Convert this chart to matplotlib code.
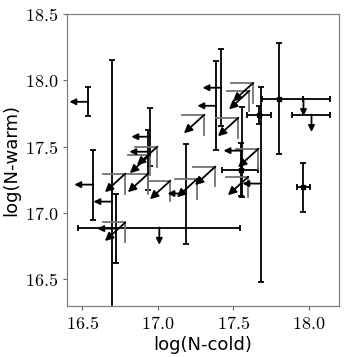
import numpy as np
import matplotlib.pyplot as plt
from matplotlib.ticker import FuncFormatter

plt.rcParams['mathtext.fontset'] = 'cm'

# detections: x, y, x- err, x+ err, y- err, y+ err
det_x = [17.805, 17.672, 17.964, 17.553]
det_y = [17.861, 17.741, 17.199, 17.327]
det_xlo = [0.113, 0.08, 0.04, 0.125]
det_xhi = [0.337, 0.08, 0.04, 0.113]
det_ylo = [0.414, 0.068, 0.19, 0.20]
det_yhi = [0.421, 0.068, 0.18, 0.20]

# upper limits in N-cold (arrow to the left), with errors in N-warm
lx_x = [16.540, 16.573, 16.699, 16.725, 16.950, 16.937, 17.189, 17.421, 17.387, 17.685, 17.560]
lx_y = [17.838, 17.214, 17.086, 16.883, 17.575, 17.462, 17.147, 17.944, 17.808, 17.222, 17.470]
lx_ylo = [0.11, 0.27, 1.0, 0.26, 0.22, 0.29, 0.38, 0.29, 0.33, 0.74, 0.35]
lx_yhi = [0.11, 0.26, 1.07, 0.26, 0.22, 0.16, 0.37, 0.29, 0.34, 0.73, 0.33]

# upper limits in N-warm (arrow down), with errors in N-cold
ly_x = [17.010, 18.017, 17.964]
ly_y = [16.891, 17.741, 17.861]
ly_xlo = [0.536, 0.126, 0.0]
ly_xhi = [0.536, 0.125, 0.0]

# upper limits in both
lb_x = [17.308, 17.632, 17.606, 17.533, 17.666, 17.599, 17.381, 17.262,
        17.083, 16.997, 16.950, 16.937, 16.785, 16.785]
lb_y = [17.741, 17.981, 17.921, 17.718, 17.485, 17.274, 17.350, 17.259,
        17.244, 17.500, 17.440, 17.297, 17.297, 16.929]

fig = plt.figure(figsize=(3.57, 3.57), dpi=100)
ax = fig.add_axes([0.188, 0.143, 0.762, 0.818])

ebkw = dict(fmt='none', ecolor='k', elinewidth=1.3, capsize=2.5, capthick=1.3)
arkw = dict(arrowstyle='-|>', color='k', lw=1.3, mutation_scale=9, shrinkA=0, shrinkB=0)
arkw2 = dict(arrowstyle='-|>', color='k', lw=1.3, mutation_scale=12, shrinkA=0, shrinkB=0)

ax.errorbar(det_x, det_y, xerr=[det_xlo, det_xhi], yerr=[det_ylo, det_yhi], **ebkw)
ax.plot(det_x, det_y, 's', color='k', ms=3)

ax.errorbar(lx_x, lx_y, yerr=[lx_ylo, lx_yhi], **ebkw)
for x, y in zip(lx_x, lx_y):
    ax.annotate('', xy=(x - 0.125, y), xytext=(x, y), arrowprops=arkw)

ax.errorbar(ly_x, ly_y, xerr=[ly_xlo, ly_xhi], **ebkw)
for x, y in zip(ly_x, ly_y):
    ax.annotate('', xy=(x, y - 0.13), xytext=(x, y), arrowprops=arkw)

for x, y in zip(lb_x, lb_y):
    ax.plot([x - 0.146, x, x], [y, y, y - 0.15], color='0.45', lw=1.3)
    ax.annotate('', xy=(x - 0.135, y - 0.14), xytext=(x, y), arrowprops=arkw2)

ax.set_xlim(16.40, 18.20)
ax.set_ylim(16.30, 18.50)
ax.set_xticks([16.5, 17.0, 17.5, 18.0])
ax.set_yticks([16.5, 17.0, 17.5, 18.0, 18.5])
fmt = FuncFormatter(lambda v, p: '$%.1f$' % v)
ax.xaxis.set_major_formatter(fmt)
ax.yaxis.set_major_formatter(fmt)
ax.tick_params(labelsize=13, length=3, color='0.4')
for s in ax.spines.values():
    s.set_color('0.5')
    s.set_linewidth(0.9)
ax.set_xlabel('log(N-cold)', fontsize=13, labelpad=2)
ax.set_ylabel('log(N-warm)', fontsize=13, labelpad=3)

fig.savefig('out.png', dpi=100)
